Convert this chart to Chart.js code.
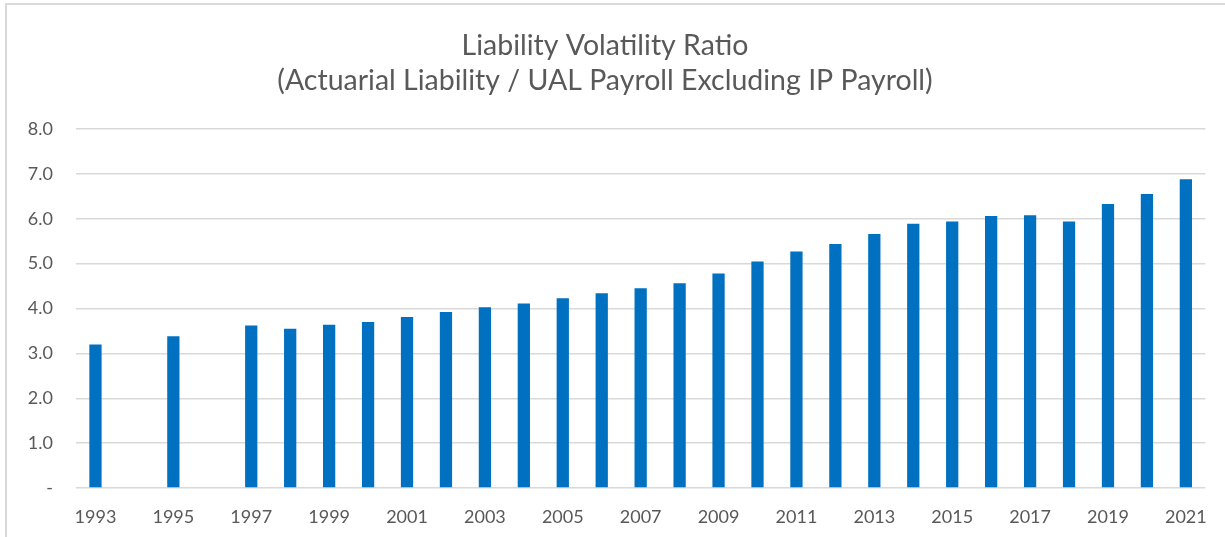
<!DOCTYPE html>
<html>
<head>
<meta charset="utf-8">
<script src="https://cdn.jsdelivr.net/npm/chart.js@4"></script>
<style>
  html, body { margin: 0; padding: 0; background: #fff; }
  #wrap { position: relative; width: 1225px; height: 537px; overflow: hidden; }
  #frame { position: absolute; left: 5px; top: 3px; width: 1300px; height: 600px;
           border-left: 2px solid #d9d9d9; border-top: 2px solid #d9d9d9; box-sizing: border-box; }
  #c { position: absolute; left: 0; top: 0; }
</style>
</head>
<body>
<div id="wrap">
  <div id="frame"></div>
  <canvas id="c" width="1225" height="537"></canvas>
</div>
<script>
const titleLines = ["Liability Volatility Ratio", "(Actuarial Liability / UAL Payroll Excluding IP Payroll)"];
const years = ["1993","1994","1995","1996","1997","1998","1999","2000","2001","2002","2003","2004","2005","2006","2007","2008","2009","2010","2011","2012","2013","2014","2015","2016","2017","2018","2019","2020","2021"];
const ratios = [3.20, null, 3.38, null, 3.62, 3.55, 3.64, 3.70, 3.81, 3.92, 4.03, 4.11, 4.23, 4.34, 4.45, 4.56, 4.78, 5.05, 5.27, 5.44, 5.66, 5.89, 5.94, 6.06, 6.08, 5.94, 6.33, 6.55, 6.88];
const yTicks = [0, 1, 2, 3, 4, 5, 6, 7, 8];

const FONT = "Lato, 'Open Sans', sans-serif";
new Chart(document.getElementById('c'), {
  type: 'bar',
  data: {
    labels: years,
    datasets: [{
      data: ratios,
      backgroundColor: '#0070c0',
      borderWidth: 0,
      barPercentage: 0.315,
      categoryPercentage: 1.0
    }]
  },
  options: {
    responsive: false,
    animation: false,
    layout: { padding: { left: 0, right: 15, top: 0, bottom: 0 } },
    plugins: {
      legend: { display: false },
      tooltip: { enabled: false },
      title: {
        display: true,
        text: titleLines,
        color: '#595959',
        font: { family: FONT, size: 28.5, weight: 'normal', lineHeight: 35 / 28.5 },
        padding: { top: 28, bottom: 31 }
      }
    },
    scales: {
      x: {
        grid: { display: false, drawTicks: false },
        border: { display: false },
        ticks: {
          autoSkip: false, maxRotation: 0, minRotation: 0,
          color: '#595959', padding: 18,
          font: { family: FONT, size: 18 },
          callback: function(v, i) { return i % 2 === 0 ? years[i] : ''; }
        },
        afterFit: function(s) { s.height = 49; }
      },
      y: {
        min: 0, max: 8,
        afterBuildTicks: function(s) { s.ticks = yTicks.map(v => ({ value: v })); },
        grid: { color: '#d9d9d9', lineWidth: 1.5, drawTicks: false },
        border: { display: false },
        ticks: {
          color: '#595959', padding: 23,
          font: { family: FONT, size: 18 },
          callback: function(v) { return v === 0 ? '-' : v.toFixed(1); }
        },
        afterFit: function(s) { s.width = 76; }
      }
    }
  }
});
</script>
</body>
</html>
